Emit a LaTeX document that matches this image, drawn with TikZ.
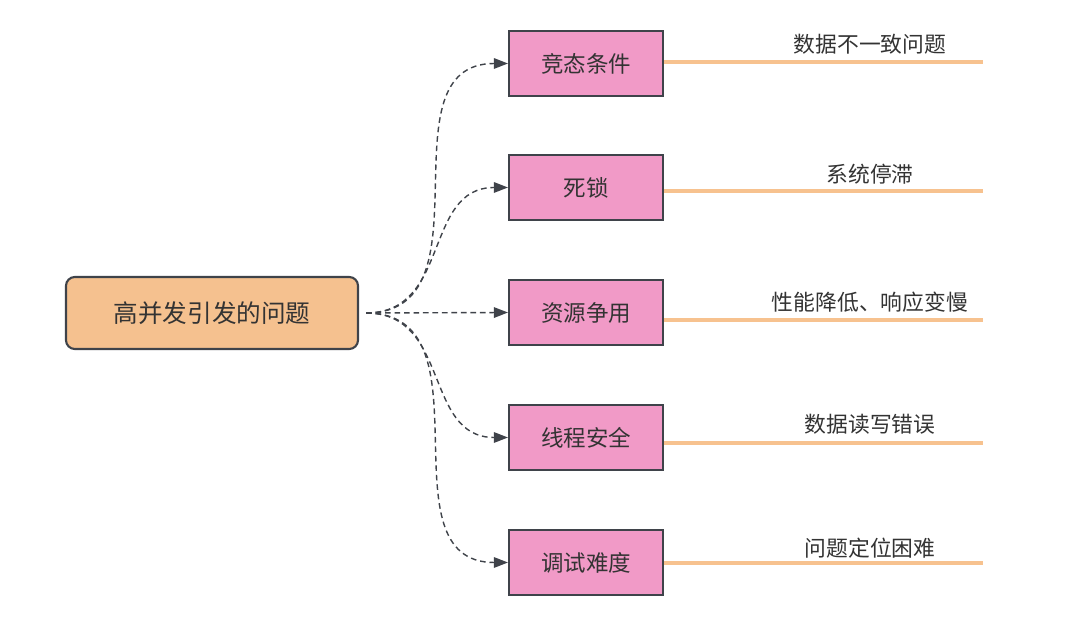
\documentclass[tikz,border=0pt]{standalone}
\usepackage{fontspec}
\setmainfont{Noto Sans CJK SC}
\usetikzlibrary{arrows.meta, positioning, shapes}

\definecolor{mainfill}{HTML}{F5C18F}
\definecolor{causefill}{HTML}{F19AC7}
\definecolor{edgegray}{HTML}{3F434A}
\definecolor{effectline}{HTML}{F7C28F}
\definecolor{textgray}{HTML}{333333}

\begin{document}
\begin{tikzpicture}[
                main style/.style={rectangle, rounded corners=2.5pt, draw=edgegray, line width=0.6pt, fill=mainfill, minimum width=2.92cm, minimum height=0.72cm, text=textgray, font=\fontsize{7}{8}\selectfont},
                cause style/.style={rectangle, draw=edgegray, line width=0.6pt, fill=causefill, minimum width=1.54cm, minimum height=0.65cm, text=textgray, font=\fontsize{6.4}{7.5}\selectfont},
                effect style/.style={text=textgray, font=\fontsize{6.2}{7.5}\selectfont},
                flow/.style={draw=edgegray, line width=0.4pt, dash pattern=on 1.6pt off 1.1pt, -{Triangle[length=4pt, width=3pt]}},
                effect line/.style={draw=effectline, line width=0.9pt}
]
    \useasboundingbox (0,0) rectangle (10.8,6.18);

    % Root node
        \node[main style] (root) at (2.12,3.05) {高并发引发的问题};
        \coordinate (start) at ([xshift=0.07cm]root.east);

    % Causes in a column on the right
        \node[cause style] (race) at (5.86,5.545) {竞态条件};
        \node[cause style] (dead) at (5.86,4.305) {死锁};
        \node[cause style] (share) at (5.86,3.055) {资源争用};
        \node[cause style] (safe) at (5.86,1.805) {线程安全};
        \node[cause style] (debug) at (5.86,0.555) {调试难度};

    % Dashed arrows from the root
        \draw[flow] (start) to[out=0, in=180, looseness=1.15] (race.west);
        \draw[flow] (start) to[out=0, in=180, looseness=1.15] (dead.west);
        \draw[flow] (start) -- (share.west);
        \draw[flow] (start) to[out=0, in=180, looseness=1.15] (safe.west);
        \draw[flow] (start) to[out=0, in=180, looseness=1.15] (debug.west);

    % Effects: line ends and labels
        \coordinate (raceend) at (9.83,5.56);
        \coordinate (deadend) at (9.83,4.27);
        \coordinate (shareend) at (9.83,2.98);
        \coordinate (safeend) at (9.83,1.75);
        \coordinate (debugend) at (9.83,0.55);

        \draw[effect line] (race.east |- raceend) -- (raceend);
        \draw[effect line] (dead.east |- deadend) -- (deadend);
        \draw[effect line] (share.east |- shareend) -- (shareend);
        \draw[effect line] (safe.east |- safeend) -- (safeend);
        \draw[effect line] (debug.east |- debugend) -- (debugend);

        \node[effect style] (raceeff) at (8.70,5.74) {数据不一致问题};
        \node[effect style] (deadeff) at (8.70,4.44) {系统停滞};
        \node[effect style] (shareeff) at (8.70,3.16) {性能降低、响应变慢};
        \node[effect style] (safeeff) at (8.70,1.94) {数据读写错误};
        \node[effect style] (debugeff) at (8.70,0.70) {问题定位困难};
\end{tikzpicture}
\end{document}
